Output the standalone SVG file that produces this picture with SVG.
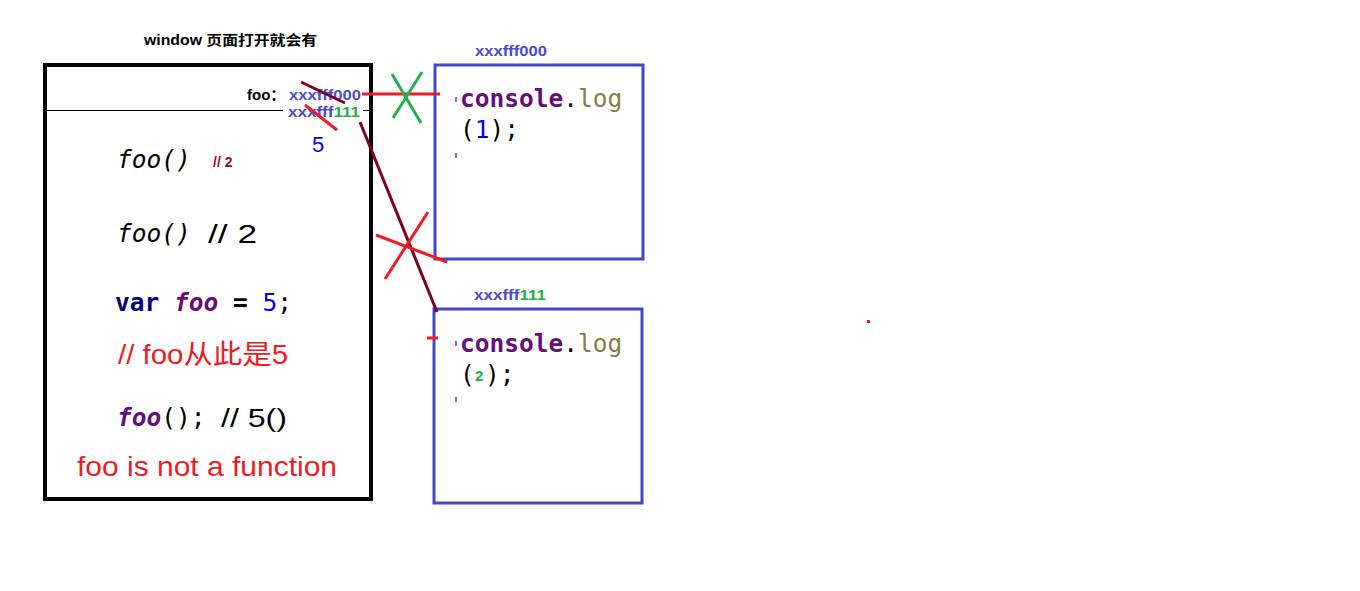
<svg xmlns="http://www.w3.org/2000/svg" width="1360" height="591" viewBox="0 0 1360 591">
<style>
.sans{font-family:"Liberation Sans","Noto Sans CJK SC",sans-serif}
.mono{font-family:"DejaVu Sans Mono","Liberation Mono",monospace;font-size:24.5px}
.addr{font-family:"Liberation Sans",sans-serif;font-weight:bold;font-size:15px;fill:#4a4ad0}
.grn{fill:#22b04a}
.box{fill:none;stroke:#4646c8;stroke-width:3}
.purple{fill:#660e7a;font-weight:bold}
.olive{fill:#808040}
.red{fill:#ed1c24}
.rl{stroke:#ed1c24;stroke-width:3;fill:none}
.dl{stroke:#7f0020;stroke-width:3;fill:none}
.gl{stroke:#22b04a;stroke-width:3;fill:none}
.tick{stroke:#4646c8;stroke-width:1.5}
</style>
<rect width="1360" height="591" fill="#fff"/>
<g id="window">
<text class="sans" x="144" y="45" font-size="14" font-weight="bold" textLength="173" lengthAdjust="spacingAndGlyphs">window  页面打开就会有</text>
<rect x="45" y="65" width="326" height="434" fill="none" stroke="#000" stroke-width="4"/>
<line x1="45" y1="110.5" x2="283" y2="110.5" stroke="#000" stroke-width="1"/>
<line x1="363" y1="110.5" x2="371" y2="110.5" stroke="#000" stroke-width="1"/>
<text class="sans" x="247" y="100" font-size="15" font-weight="bold">foo：</text>
<text class="addr" x="289" y="100" textLength="72" lengthAdjust="spacingAndGlyphs">xxxfff000</text>
<text class="addr" x="288" y="117" textLength="72" lengthAdjust="spacingAndGlyphs">xxxfff<tspan class="grn">111</tspan></text>
<text class="sans" x="312" y="152" font-size="22" fill="#0000ff">5</text>
<text class="mono" x="117" y="168" font-style="italic">foo()</text>
<text class="sans" x="213" y="167" font-size="14" font-weight="bold" fill="#9b0a1e">// 2</text>
<text class="mono" x="117" y="242" font-style="italic">foo()</text>
<text class="sans" x="208" y="243" font-size="26" textLength="49" lengthAdjust="spacingAndGlyphs">// 2</text>
<text class="mono" x="115" y="311" font-weight="bold"><tspan fill="#000080">var</tspan> <tspan fill="#660e7a" font-style="italic">foo</tspan> = <tspan fill="#0000ff" font-weight="normal">5</tspan><tspan font-weight="normal">;</tspan></text>
<text class="sans red" x="118" y="364" font-size="27" textLength="170" lengthAdjust="spacingAndGlyphs">// foo从此是5</text>
<text class="mono" x="117" y="426"><tspan class="purple" font-style="italic">foo</tspan>(); </text>
<text class="sans" x="221" y="427" font-size="26" textLength="66" lengthAdjust="spacingAndGlyphs">// 5()</text>
<text class="sans red" x="77" y="476" font-size="28" textLength="260" lengthAdjust="spacingAndGlyphs">foo is not a function</text>
</g>
<g id="heap1">
<text class="addr" x="475" y="56" textLength="72" lengthAdjust="spacingAndGlyphs">xxxfff000</text>
<rect class="box" x="435" y="65" width="208" height="194"/>
<line class="tick" x1="456" y1="97" x2="456" y2="102"/>
<line class="tick" x1="456" y1="153" x2="456" y2="158"/>
<text class="mono" x="460" y="107"><tspan class="purple">console</tspan>.<tspan class="olive">log</tspan></text>
<text class="mono" x="460" y="138">(<tspan fill="#0000ff">1</tspan>);</text>
</g>
<g id="heap2">
<text class="addr" x="474" y="300" textLength="72" lengthAdjust="spacingAndGlyphs">xxxfff<tspan class="grn">111</tspan></text>
<rect class="box" x="434" y="309" width="208" height="194"/>
<line class="tick" x1="456" y1="341" x2="456" y2="346"/>
<line class="tick" x1="456" y1="397" x2="456" y2="402"/>
<text class="mono" x="460" y="352"><tspan class="purple">console</tspan>.<tspan class="olive">log</tspan></text>
<text class="mono" x="460" y="383">(</text>
<text class="sans grn" x="475" y="381" font-size="15" font-weight="bold">2</text>
<text class="mono" x="485" y="383">);</text>
</g>
<g id="connectors">
<line class="dl" x1="301" y1="82" x2="345" y2="103"/>
<line class="rl" x1="305" y1="105" x2="337" y2="130"/>
<line class="rl" x1="362" y1="94" x2="440" y2="94"/>
<line class="gl" x1="392" y1="74" x2="421" y2="123"/>
<line class="gl" x1="422" y1="72" x2="393" y2="118"/>
<line class="dl" x1="360" y1="122" x2="437" y2="312"/>
<line class="rl" x1="376" y1="235" x2="447" y2="262"/>
<line class="rl" x1="428" y1="212" x2="385" y2="279"/>
<line class="rl" x1="427" y1="338" x2="438" y2="338"/>
<rect x="867" y="320" width="3" height="3" fill="#ed1c24"/>
</g>
</svg>
